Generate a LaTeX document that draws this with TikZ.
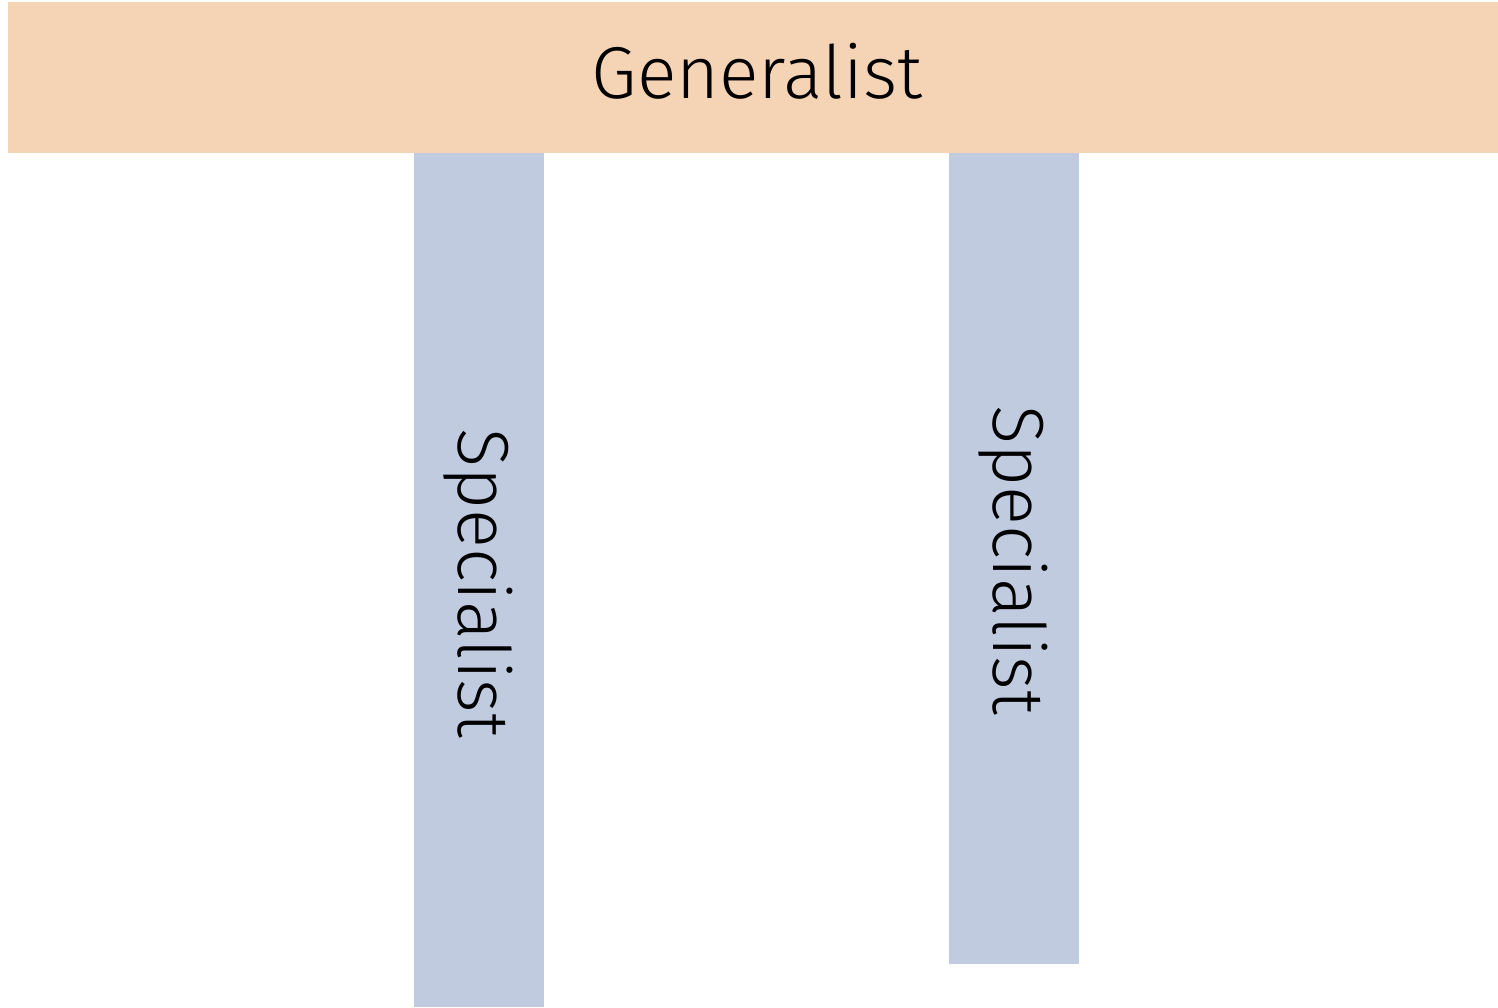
\documentclass[tikz,border=0pt]{standalone}
\usepackage{fontspec}
\setmainfont{Fira Sans Light}
\definecolor{peach}{HTML}{F5D3B5}
\definecolor{slate}{HTML}{C0CBE0}
\begin{document}
\begin{tikzpicture}[x=1pt,y=-1pt,
  bar/.style={fill=peach,draw=none},
  pillar/.style={fill=slate,draw=none},
  lbl/.style={font=\fontsize{73.5}{80}\selectfont,text=black,inner sep=0pt},
  vlbl/.style={font=\fontsize{72.3}{80}\selectfont,text=black,inner sep=0pt,rotate=-90}]
  \useasboundingbox (0,0) rectangle (1498,1007);
  % horizontal generalist bar
  \fill[bar] (8,2) rectangle (1498,153);
  \node[lbl] (gen) at (757,71) {Generalist};
  % two specialist pillars
  \fill[pillar] (414,153) rectangle (544,1007);
  \fill[pillar] (949,153) rectangle (1079,964);
  \node[vlbl] (specA) at (478,583) {Specialist};
  \node[vlbl] (specB) at (1013,560) {Specialist};
\end{tikzpicture}
\end{document}
